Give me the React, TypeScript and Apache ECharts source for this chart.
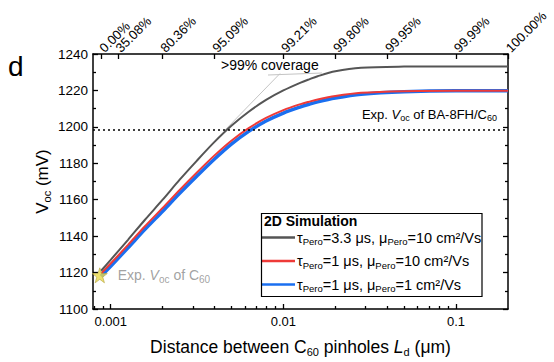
import React, { useEffect, useRef } from "react";
import * as echarts from "echarts";

// Distance between C60 pinholes Ld (µm)
const ldValues = [0.00088, 0.001, 0.00126, 0.00158, 0.002, 0.00251, 0.00316, 0.00398, 0.005, 0.0063, 0.00794, 0.01, 0.0126, 0.0141, 0.0158, 0.02, 0.0282, 0.05, 0.1, 0.2];
// Voc (mV)
const vocTau33Mu10 = [1121, 1127, 1138, 1149, 1160, 1171, 1181.5, 1191.6, 1200.6, 1208.3, 1214.8, 1220, 1224.3, 1226.1, 1227.8, 1230.5, 1232.5, 1233.1, 1233.2, 1233.2];
const vocTau1Mu10 = [1119.5, 1125, 1135.2, 1145.4, 1155.5, 1165.4, 1175, 1184.2, 1192.4, 1199.3, 1204.9, 1209.2, 1212.5, 1213.8, 1215, 1216.9, 1218.7, 1219.6, 1219.8, 1219.8];
const vocTau1Mu1 = [1118, 1123.5, 1133.6, 1143.7, 1153.7, 1163.5, 1173, 1182.2, 1190.5, 1197.5, 1203.2, 1207.6, 1211, 1212.4, 1213.7, 1215.8, 1217.9, 1219.3, 1219.8, 1219.8];

const seriesNames = ["tau33mu10", "tau1mu10", "tau1mu1"];
const seriesLabels = [
  "τ{s|Pero}=3.3 μs, μ{s|Pero}=10 cm²/Vs",
  "τ{s|Pero}=1 μs, μ{s|Pero}=10 cm²/Vs",
  "τ{s|Pero}=1 μs, μ{s|Pero}=1 cm²/Vs",
];

// experimental points
const expBA8FH = 1198.6;
const expC60 = { ld: 0.000865, voc: 1118.5 };

// axes
const xMin = 0.00079;
const xMax = 0.2;
const bottomMajor = [0.001, 0.01, 0.1];
const bottomMajorLabels = ["0.001", "0.01", "0.1"];
const bottomMinor = [0.0008, 0.0009, 0.002, 0.003, 0.004, 0.005, 0.006, 0.007, 0.008, 0.009, 0.02, 0.03, 0.04, 0.05, 0.06, 0.07, 0.08, 0.09];
const coverageLd = [0.000886, 0.0011, 0.002, 0.004, 0.01, 0.02, 0.04, 0.1, 0.2];
const coverageLabels = ["0.00%", "35.08%", "80.36%", "95.09%", "99.21%", "99.80%", "99.95%", "99.99%", "100.00%"];
const yMin = 1100;
const yMax = 1240;
const yInterval = 20;

const FONT = "'Liberation Sans', Arial, sans-serif";
const lg = (v: number) => Math.log10(v);
const nearest = (arr: number[], v: number) => {
  let best = 0;
  arr.forEach((b, i) => {
    if (Math.abs(lg(b) - v) < Math.abs(lg(arr[best]) - v)) best = i;
  });
  return best;
};

export default function App() {
  const ref = useRef<HTMLDivElement>(null);
  useEffect(() => {
    if (!ref.current) return;
    const chart = echarts.init(ref.current, null, { renderer: "svg" });
    const lmin = lg(xMin);
    const lmax = lg(xMax);
    const sub = { fontSize: 11, padding: [9, 0, 0, 0], fontFamily: FONT };
    const subSmall = { fontSize: 9.5, padding: [8, 0, 0, 0], fontFamily: FONT };
    const mk = (vals: number[]) => ldValues.map((x, i) => [lg(x), vals[i]]);
    const tickStyle = { color: "#000", width: 1.3 };
    const axisLine = { show: true, lineStyle: { color: "#000", width: 1.5 } };
    const topLabel = {
      rotate: -45,
      hideOverlap: false,
      showMinLabel: true,
      showMaxLabel: true,
      color: "#000",
      fontSize: 13,
      margin: 4,
      formatter: (v: number) => coverageLabels[nearest(coverageLd, v)],
    };

    const option: any = {
      animation: false,
      textStyle: { fontFamily: FONT },
      grid: { left: 93, right: 46, top: 54, bottom: 51, containLabel: false },
      xAxis: [
        {
          type: "value",
          position: "bottom",
          min: lmin,
          max: lmax,
          axisLine,
          splitLine: { show: false },
          axisTick: { inside: true, length: 5, lineStyle: tickStyle, customValues: bottomMajor.map(lg) },
          axisLabel: {
            customValues: bottomMajor.map(lg),
            color: "#000",
            fontSize: 13,
            margin: 6,
            formatter: (v: number) => bottomMajorLabels[nearest(bottomMajor, v)],
          },
          name: "Distance between C{s|60} pinholes {i|L}{s|d} (μm)",
          nameLocation: "middle",
          nameGap: 28,
          nameMoveOverlap: false,
          nameTextStyle: {
            fontSize: 17.5,
            color: "#000",
            fontFamily: FONT,
            rich: { s: sub, i: { fontSize: 17.5, fontStyle: "italic", fontFamily: FONT } },
          },
        },
        {
          type: "value",
          position: "bottom",
          min: lmin,
          max: lmax,
          axisLine: { show: false },
          splitLine: { show: false },
          axisTick: { inside: true, length: 3, lineStyle: tickStyle, customValues: bottomMinor.map(lg) },
          axisLabel: { show: false },
        },
        {
          type: "value",
          position: "top",
          min: lmin,
          max: lmax,
          axisLine,
          splitLine: { show: false },
          axisTick: { inside: true, length: 5, lineStyle: tickStyle, customValues: coverageLd.map(lg) },
          axisLabel: { ...topLabel, customValues: coverageLd.slice(1).map(lg) },
        },
        {
          type: "value",
          position: "top",
          min: lmin,
          max: lmax,
          axisLine: { show: false },
          splitLine: { show: false },
          axisTick: { show: false },
          axisLabel: { ...topLabel, customValues: coverageLd.slice(0, 1).map(lg) },
        },
      ],
      yAxis: [
        {
          type: "value",
          position: "left",
          min: yMin,
          max: yMax,
          interval: yInterval,
          axisLine,
          splitLine: { show: false },
          axisTick: { inside: true, length: 5, lineStyle: tickStyle },
          minorTick: { show: true, splitNumber: 2, length: 3, lineStyle: tickStyle },
          axisLabel: { color: "#000", fontSize: 13.5, margin: 5, formatter: (v: number) => String(v) },
          name: "{i|V}{s|oc} (mV)",
          nameLocation: "middle",
          nameGap: 41,
          nameMoveOverlap: false,
          nameTextStyle: {
            fontSize: 17,
            color: "#000",
            fontFamily: FONT,
            rich: { s: { fontSize: 11, padding: [9, 0, 0, 0], fontFamily: FONT }, i: { fontSize: 17, fontFamily: FONT } },
          },
        },
        {
          type: "value",
          position: "right",
          min: yMin,
          max: yMax,
          interval: yInterval,
          axisLine,
          splitLine: { show: false },
          axisTick: { inside: true, length: 5, lineStyle: tickStyle },
          minorTick: { show: true, splitNumber: 2, length: 3, lineStyle: tickStyle },
          axisLabel: { show: false },
        },
      ],
      legend: {
        left: 262,
        top: 230,
        orient: "vertical",
        itemGap: 7,
        itemWidth: 33,
        itemHeight: 2.5,
        padding: 0,
        icon: "rect",
        data: [
          { name: seriesNames[0], itemStyle: { color: "#555555" } },
          { name: seriesNames[1], itemStyle: { color: "#ee3a38" } },
          { name: seriesNames[2], itemStyle: { color: "#1a6ff0" } },
        ],
        formatter: (name: string) => seriesLabels[seriesNames.indexOf(name)],
        textStyle: {
          fontSize: 14.5,
          color: "#000",
          fontFamily: FONT,
          padding: [0, 0, 0, -3],
          rich: { s: subSmall },
        },
      },
      series: [
        {
          name: seriesNames[2],
          type: "line",
          data: mk(vocTau1Mu1),
          showSymbol: false,
          symbol: "none",
          smooth: 0.3,
          lineStyle: { color: "#1a6ff0", width: 3.5 },
          itemStyle: { color: "#1a6ff0" },
          z: 2,
          markLine: {
            silent: true,
            symbol: "none",
            lineStyle: { color: "#000", type: [2, 3], width: 1.5 },
            data: [{ yAxis: expBA8FH }],
            label: {
              position: "insideEndTop",
              distance: [11, 7],
              color: "#000",
              fontSize: 13,
              fontFamily: FONT,
              formatter: () => "Exp. {i|V}{s|oc} of BA-8FH/C{s|60}",
              rich: {
                i: { fontSize: 13, fontStyle: "italic", fontFamily: FONT },
                s: { fontSize: 9, padding: [7, 0, 0, 0], fontFamily: FONT },
              },
            },
          },
        },
        {
          name: seriesNames[1],
          type: "line",
          data: mk(vocTau1Mu10),
          showSymbol: false,
          symbol: "none",
          smooth: 0.3,
          lineStyle: { color: "#ee3a38", width: 2 },
          itemStyle: { color: "#ee3a38" },
          z: 3,
        },
        {
          name: seriesNames[0],
          type: "line",
          data: mk(vocTau33Mu10),
          showSymbol: false,
          symbol: "none",
          smooth: 0.3,
          lineStyle: { color: "#555555", width: 2 },
          itemStyle: { color: "#555555" },
          z: 3,
        },
        {
          name: "expC60",
          type: "scatter",
          data: [[lg(expC60.ld), expC60.voc]],
          symbol:
            "path://M50,0 L61.8,35.1 L97.6,35.1 L68.8,56.8 L79.4,91.9 L50,70.6 L20.6,91.9 L31.2,56.8 L2.4,35.1 L38.2,35.1 Z",
          symbolSize: 15,
          itemStyle: { color: "#e8d84a", borderColor: "#b5a640", borderWidth: 0.8 },
          z: 5,
          label: {
            show: true,
            position: "right",
            distance: 10,
            color: "#8a8a8a",
            fontSize: 14,
            fontFamily: FONT,
            formatter: () => "Exp. {i|V}{s|oc} of C{s|60}",
            rich: {
              i: { fontSize: 14, fontStyle: "italic", color: "#8a8a8a", fontFamily: FONT },
              s: { fontSize: 10, padding: [8, 0, 0, 0], color: "#8a8a8a", fontFamily: FONT },
            },
          },
        },
      ],
      graphic: [
        {
          type: "text",
          left: 8,
          top: 52,
          style: { text: "d", fontSize: 28, fill: "#000", fontFamily: FONT },
        },
        {
          type: "rect",
          shape: { x: 261.5, y: 213.5, width: 220.5, height: 83 },
          style: { fill: "none", stroke: "#000", lineWidth: 1.2 },
          z: 10,
        },
        {
          type: "text",
          x: 264,
          y: 214,
          style: { text: "2D Simulation", fontSize: 14, fontWeight: "bold", fill: "#000", fontFamily: FONT },
          z: 10,
        },
        {
          type: "polyline",
          shape: { points: [[225, 130], [280, 73.5]] },
          style: { stroke: "#c4c4c4", lineWidth: 1, fill: "none" },
          z: 1,
        },
        {
          type: "line",
          shape: { x1: 268, y1: 75, x2: 322, y2: 73 },
          style: { stroke: "#c4c4c4", lineWidth: 1 },
          z: 1,
        },
        {
          type: "text",
          x: 221,
          y: 58,
          style: { text: ">99% coverage", fontSize: 14, fill: "#000", fontFamily: FONT },
          z: 10,
        },
      ],
    };
    chart.setOption(option);
    return () => chart.dispose();
  }, []);
  return <div ref={ref} style={{ width: 554, height: 362, position: "absolute", left: 0, top: 0 }} />;
}
